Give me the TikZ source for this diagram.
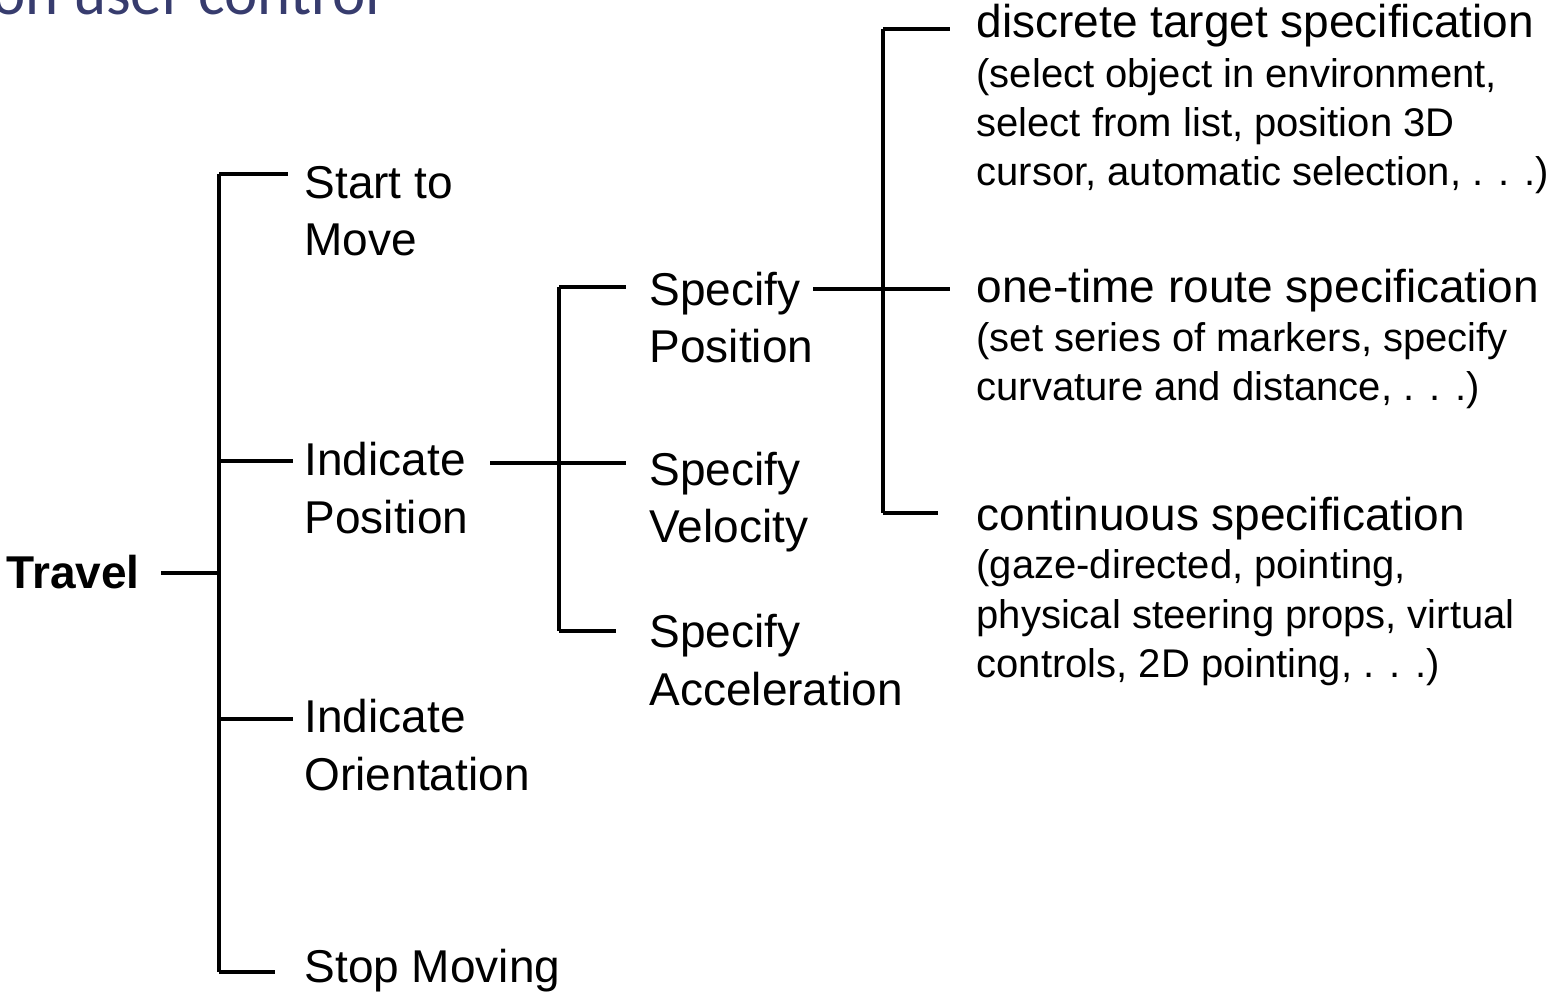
\documentclass[tikz,border=0pt]{standalone}
\usepackage{fontspec}
\setmainfont{Liberation Sans}
\newfontfamily\slidefont{Carlito}
\usetikzlibrary{positioning}

\definecolor{slideblue}{RGB}{55,60,110}
\newcommand\bigtxt{\fontsize{46}{58}\selectfont}
\newcommand\smalltxt{\fontsize{40}{49}\selectfont}

\begin{document}
\begin{tikzpicture}[x=1pt, y=-1pt, line width=3.2pt,
        lvlone/.style={anchor=base west, inner ysep=0pt, inner xsep=10pt, font=\bigtxt},
        lvltwo/.style={anchor=base west, inner ysep=0pt, inner xsep=22pt, font=\bigtxt},
        leaf/.style={anchor=base west, inner ysep=0pt, inner xsep=25pt, font=\bigtxt},
        leafsub/.style={anchor=base west, inner ysep=0pt, inner xsep=25pt, font=\smalltxt}]

        \clip (0,0) rectangle (1549,991);

        % heading of the slide, cut by the top edge
        \node[anchor=base west, inner sep=0pt, text=slideblue,
              font=\slidefont\fontsize{63}{70}\selectfont] (head) at (-9,14) {on user control};

        \node[anchor=base west, inner sep=0pt, font=\bigtxt\bfseries] (travel) at (5,588) {Travel};

        % first level
        \node[lvlone] (start) at (293,198) {Start to};
        \node[lvlone, below=57pt of start.base west, anchor=base west] (start2) {Move};
        \node[lvlone] (indpos) at (293,475) {Indicate};
        \node[lvlone, below=58pt of indpos.base west, anchor=base west] (indpos2) {Position};
        \node[lvlone] (indori) at (293,732) {Indicate};
        \node[lvlone, below=58pt of indori.base west, anchor=base west] (indori2) {Orientation};
        \node[lvlone] (stop) at (293,982) {Stop Moving};

        % second level
        \node[lvltwo] (specpos) at (626,305) {Specify};
        \node[lvltwo, below=57pt of specpos.base west, anchor=base west] (specpos2) {Position};
        \node[lvltwo] (specvel) at (626,485) {Specify};
        \node[lvltwo, below=57pt of specvel.base west, anchor=base west] (specvel2) {Velocity};
        \node[lvltwo] (specacc) at (626,647) {Specify};
        \node[lvltwo, below=58pt of specacc.base west, anchor=base west] (specacc2) {Acceleration};

        % third level
        \node[leaf] (disc) at (950,37) {discrete target specification};
        \node[leafsub, below=50pt of disc.base west, anchor=base west] (disc1) {(select object in environment,};
        \node[leafsub, below=49pt of disc1.base west, anchor=base west] (disc2) {select from list, position 3D};
        \node[leafsub, below=49pt of disc2.base west, anchor=base west] (disc3) {cursor, automatic selection, . . .)};

        \node[leaf] (route) at (950,302) {one-time route specification};
        \node[leafsub, below=49pt of route.base west, anchor=base west] (route1) {(set series of markers, specify};
        \node[leafsub, below=49pt of route1.base west, anchor=base west] (route2) {curvature and distance, . . .)};

        \node[leaf] (cont) at (950,530) {continuous specification};
        \node[leafsub, below=48pt of cont.base west, anchor=base west] (cont1) {(gaze-directed, pointing,};
        \node[leafsub, below=50pt of cont1.base west, anchor=base west] (cont2) {physical steering props, virtual};
        \node[leafsub, below=49pt of cont2.base west, anchor=base west] (cont3) {controls, 2D pointing, . . .)};

        % bars and branches
        \coordinate (top1) at (219,174);
        \coordinate (bot1) at (219,972);
        \coordinate (top2) at (559,287);
        \coordinate (bot2) at (559,631);
        \coordinate (top3) at (883,29);
        \coordinate (bot3) at (883,513);

        \draw (top1) -- (bot1);
        \draw (top2) -- (bot2);
        \draw (top3) -- (bot3);

        \draw[shorten <=20pt] (travel.east |- 0,573) -- (top1 |- 0,573);
        \draw[shorten >=5pt] (top1) -- (start.west |- top1);
        \draw (top1 |- 0,461) -- (indpos.west |- 0,461);
        \draw (top1 |- 0,719) -- (indori.west |- 0,719);
        \draw[shorten >=18pt] (bot1) -- (stop.west |- bot1);

        \draw (top2) -- (specpos.west |- top2);
        \draw[shorten <=13pt] (indpos.east |- 0,463) -- (specvel.west |- 0,463);
        \draw[shorten >=10pt] (bot2) -- (specacc.west |- bot2);

        \draw (top3) -- (disc.west |- top3);
        \draw[shorten <=-11pt] (specpos.east |- 0,289) -- (route.west |- 0,289);
        \draw[shorten >=12pt] (bot3) -- (cont.west |- bot3);

\end{tikzpicture}
\end{document}
